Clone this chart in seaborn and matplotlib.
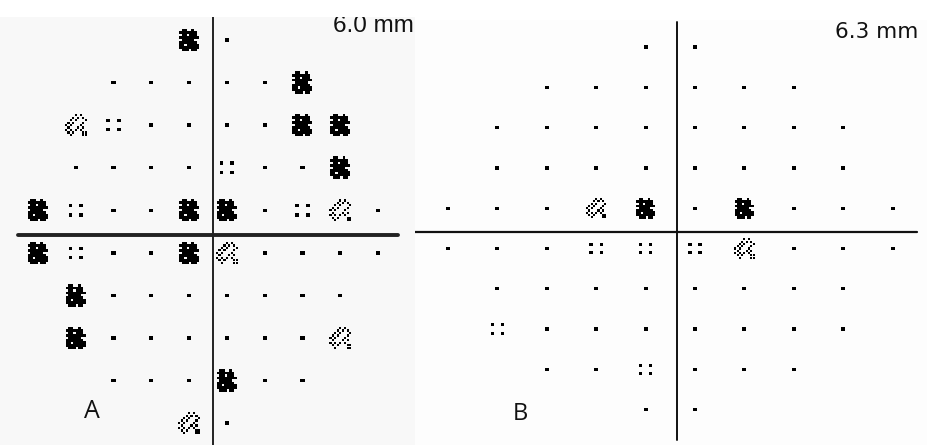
import matplotlib
matplotlib.use("Agg")
import matplotlib.pyplot as plt
from matplotlib.path import Path
import numpy as np
import pandas as pd
import seaborn as sns

# ---------------- data ----------------
# symbol per test location: '.' normal, ':' p<5%, 'x' p<1%, '#' p<0.5%, ' ' none
A_ROWS = [
    "    #.    ",
    "  .....#  ",
    " x:....## ",
    " ....:..# ",
    "#:..##.:x.",
    "#:..#x....",
    " #....... ",
    " #......x ",
    "  ...#..  ",
    "    x.    ",
]
B_ROWS = [
    "    ..    ",
    "  ......  ",
    " ........ ",
    " ........ ",
    "...x#.#...",
    "...:::x...",
    " ........ ",
    " :....... ",
    "  ..:...  ",
    "    ..    ",
]
PANEL_LABELS = ["A", "B"]
PUPIL_TEXT = ["6.0 mm", "6.3 mm"]

# ---------------- symbol shapes ----------------
BLACK_BITMAP = [
    ".##..#..",
    "#######.",
    ".##.###.",
    "########",
    ".#####..",
    "#######.",
    "##.#####",
    "########",
    ".###.##.",
]
CHECK_BITMAP = [
    "....#.#..",
    "...#.#.#.",
    "..#.#...#",
    ".#.#...#.",
    "#.#...#..",
    ".#...#.#.",
    "#.#.#.#..",
    ".#.#...##",
    "..#....##",
]


def squares_path(centers, hx, hy):
    verts = [(-4.6, -4.6), (4.6, 4.6)]
    codes = [Path.MOVETO, Path.MOVETO]
    for cx, cy in centers:
        verts += [(cx - hx, cy - hy), (cx + hx, cy - hy), (cx + hx, cy + hy),
                  (cx - hx, cy + hy), (cx - hx, cy - hy)]
        codes += [Path.MOVETO, Path.LINETO, Path.LINETO, Path.LINETO, Path.CLOSEPOLY]
    return Path(verts, codes)


def bitmap_path(bm, half):
    n, m = len(bm), len(bm[0])
    cs = []
    for i, line in enumerate(bm):
        for j, ch in enumerate(line):
            if ch == "#":
                cs.append((j - (m - 1) / 2, (n - 1) / 2 - i))
    return squares_path(cs, half, half)


MARKERS = {
    ".": squares_path([(0, 0)], 0.85, 0.7),
    ":": squares_path([(-2.2, 1.9), (2.2, 1.9), (-2.2, -1.9), (2.2, -1.9)], 0.75, 0.65),
    "x": bitmap_path(CHECK_BITMAP, 0.45),
    "#": bitmap_path(BLACK_BITMAP, 0.56),
}


def grid_df(rows):
    rec = []
    for r, line in enumerate(rows):
        for c, ch in enumerate(line):
            if ch != " ":
                rec.append({"col": c, "row": r, "level": ch})
    return pd.DataFrame(rec)


sns.set_theme(style="white")
plt.rcParams["font.family"] = ["Liberation Sans", "DejaVu Sans"]

W, H = 927, 445
fig = plt.figure(figsize=(W / 100, H / 100), dpi=100, facecolor="white")


def make_axes(px0, px1, pytop, col0_px, dcol, row0_px, drow, face):
    ax = fig.add_axes([px0 / W, 0, (px1 - px0) / W, (H - pytop) / H])
    ax.set_xlim((px0 - col0_px) / dcol, (px1 - col0_px) / dcol)
    ax.set_ylim((H - row0_px) / drow, (pytop - row0_px) / drow)
    ax.set_facecolor(face)
    ax.set_xticks([])
    ax.set_yticks([])
    for s in ax.spines.values():
        s.set_visible(False)
    return ax


# ---- panel A ----
axA = make_axes(0, 415, 17, 38, 37.78, 40, 42.56, "#f8f8f8")
sns.scatterplot(data=grid_df(A_ROWS), x="col", y="row", style="level",
                markers=MARKERS, color="black", s=265, linewidth=0,
                edgecolor="none", legend=False, ax=axA)
axA.axvline((213 - 38) / 37.78, color="#111111", lw=1.3)
axA.axhline((235 - 40) / 42.56, xmin=18 / 415, xmax=398 / 415, color="#222222", lw=2.8)
axA.text(333 / 415, (H - 32) / (H - 17), PUPIL_TEXT[0], transform=axA.transAxes,
         ha="left", va="baseline", fontsize=17.5, color="#111111", clip_on=True)
axA.text(92 / 415, (H - 418) / (H - 17), PANEL_LABELS[0], transform=axA.transAxes,
         ha="center", va="baseline", fontsize=18, family=["Open Sans", "DejaVu Sans"],
         color="#111111")

# ---- panel B ----
axB = make_axes(415, 927, 20, 448, 49.4, 47, 40.3, "#fdfdfd")
sns.scatterplot(data=grid_df(B_ROWS), x="col", y="row", style="level",
                markers=MARKERS, color="black", s=230, linewidth=0,
                edgecolor="none", legend=False, ax=axB)
axB.axvline((677 - 448) / 49.4, ymin=(H - 440) / (H - 20), ymax=(H - 22) / (H - 20),
            color="#111111", lw=1.4)
axB.axhline((232 - 47) / 40.3, xmin=0, xmax=(917 - 415) / 512, color="#111111", lw=1.6)
axB.text((835 - 415) / 512, (H - 38) / (H - 20), PUPIL_TEXT[1], transform=axB.transAxes,
         ha="left", va="baseline", fontsize=15.5, family=["DejaVu Sans"], color="#111111")
axB.text((520 - 415) / 512, (H - 420) / (H - 20), PANEL_LABELS[1], transform=axB.transAxes,
         ha="center", va="baseline", fontsize=17, family=["Open Sans", "DejaVu Sans"],
         color="#111111")

fig.savefig("out.png", dpi=100, facecolor="white")
